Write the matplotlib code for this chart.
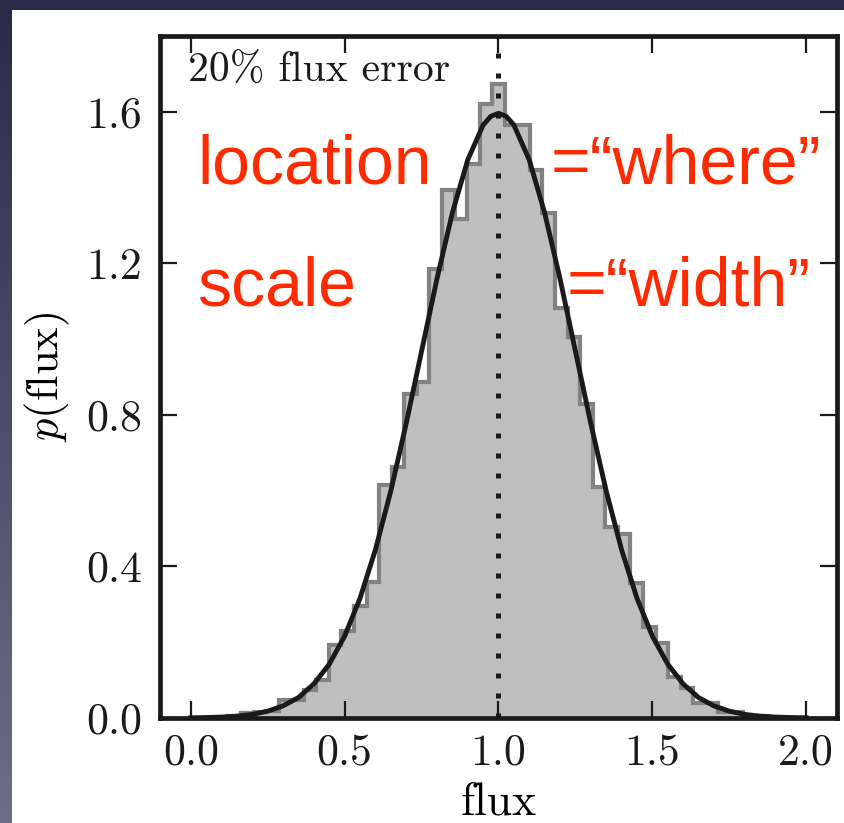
import numpy as np
import matplotlib
matplotlib.use("Agg")
import matplotlib.pyplot as plt
import matplotlib.colors as mcolors
from matplotlib.patches import Rectangle

# density histogram of the noisy fluxes: 49 equal bins from 0 to 2
bin_lo, bin_hi = 0.0, 2.0
hist_density = [0.0, 0.0, 0.002, 0.006, 0.012, 0.016, 0.018, 0.047, 0.047, 0.073,
                0.100, 0.193, 0.230, 0.296, 0.360, 0.615, 0.663, 0.855, 0.887, 1.186,
                1.394, 1.316, 1.462, 1.621, 1.673, 1.566, 1.566, 1.446, 1.332, 1.082,
                1.005, 0.829, 0.610, 0.504, 0.486, 0.357, 0.241, 0.197, 0.107, 0.078,
                0.040, 0.040, 0.016, 0.016, 0.006, 0.004, 0.002, 0.0, 0.0]

# model curve
curve_x = [0.0, 0.05, 0.1, 0.15, 0.2, 0.25, 0.3, 0.35, 0.4, 0.45, 0.5, 0.55, 0.6, 0.65,
           0.7, 0.75, 0.8, 0.85, 0.9, 0.95, 0.975, 1.0, 1.025, 1.05, 1.1, 1.15, 1.2,
           1.25, 1.3, 1.35, 1.4, 1.45, 1.5, 1.55, 1.6, 1.65, 1.7, 1.75, 1.8, 1.85,
           1.9, 1.95, 2.0]
curve_y = [0.0005, 0.0012, 0.0024, 0.0049, 0.0095, 0.018, 0.032, 0.054, 0.090, 0.142,
           0.216, 0.316, 0.444, 0.599, 0.777, 0.968, 1.159, 1.333, 1.473, 1.565, 1.588,
           1.596, 1.588, 1.565, 1.473, 1.333, 1.159, 0.968, 0.777, 0.599, 0.444, 0.316,
           0.216, 0.142, 0.090, 0.054, 0.032, 0.018, 0.0095, 0.0049, 0.0024, 0.0012,
           0.0005]

true_flux = 1.0
xticks = [0.0, 0.5, 1.0, 1.5, 2.0]
yticks = [0.0, 0.4, 0.8, 1.2, 1.6]
note = "20% flux error"

plt.rcParams['font.family'] = 'serif'
plt.rcParams['font.serif'] = ['cmr10']
plt.rcParams['mathtext.fontset'] = 'cm'
plt.rcParams['axes.formatter.use_mathtext'] = True

W, H = 845, 823
fig = plt.figure(figsize=(W / 100, H / 100), dpi=100)

# slide background: dark gradient with a white panel on top
bg = fig.add_axes([0, 0, 1, 1], zorder=-10)
bg.axis('off')
cmap = mcolors.LinearSegmentedColormap.from_list('slide', ['#2b2a49', '#6e6d89'])
bg.imshow(np.linspace(0, 1, 256)[:, None], aspect='auto', cmap=cmap,
          extent=[0, 1, 0, 1], origin='upper')
bg.add_patch(Rectangle((12 / W, 0), 1, 1 - 10 / H, facecolor='white',
                       edgecolor='none', transform=bg.transAxes))
bg.set_xlim(0, 1)
bg.set_ylim(0, 1)

ax = fig.add_axes([160 / W, 1 - 718 / H, 677 / W, 682 / H])
ax.set_facecolor('none')

edges = np.linspace(bin_lo, bin_hi, len(hist_density) + 1)
ax.stairs(hist_density, edges, fill=True, color='#bfbfbf', zorder=1)
ax.stairs(hist_density, edges, color='#828282', lw=3.0, zorder=2)
ax.plot(curve_x, curve_y, color='#1a1a1a', lw=3.5, zorder=3)
ax.axvline(true_flux, color='#1a1a1a', lw=3.6, ls=(0, (1, 3.0)), zorder=4)

ax.set_xlim(-0.1, 2.1)
ax.set_ylim(0, 1.8)
ax.set_xticks(xticks)
ax.set_yticks(yticks)
ax.set_xticklabels(['%.1f' % v for v in xticks])
ax.set_yticklabels(['%.1f' % v for v in yticks])
ax.tick_params(direction='in', length=12, width=1.6, top=True, right=True,
               labelsize=31.5, colors='#1a1a1a')
ax.tick_params(axis='y', pad=13)
ax.tick_params(axis='x', pad=11)
for s in ax.spines.values():
    s.set_linewidth(3.4)
    s.set_color('#1a1a1a')

ax.set_xlabel('flux', fontsize=33, labelpad=6)
ax.set_ylabel(r'$p(\mathrm{flux})$', fontsize=32, labelpad=10)

ax.text(0.042, 0.978, note, transform=ax.transAxes, ha='left', va='top',
        fontsize=30, color='#1a1a1a')

red = '#ff2a00'
sans = ['Liberation Sans', 'DejaVu Sans']
fig.text(197 / W, 1 - 183 / H, 'location', color=red, fontsize=49, family=sans,
         va='baseline')
fig.text(551 / W, 1 - 183 / H, '=\u201cwhere\u201d', color=red, fontsize=49,
         family=sans, va='baseline')
fig.text(197 / W, 1 - 306 / H, 'scale', color=red, fontsize=49, family=sans,
         va='baseline')
fig.text(567 / W, 1 - 306 / H, '=\u201cwidth\u201d', color=red, fontsize=49,
         family=sans, va='baseline')

fig.savefig('out.png', dpi=100)
